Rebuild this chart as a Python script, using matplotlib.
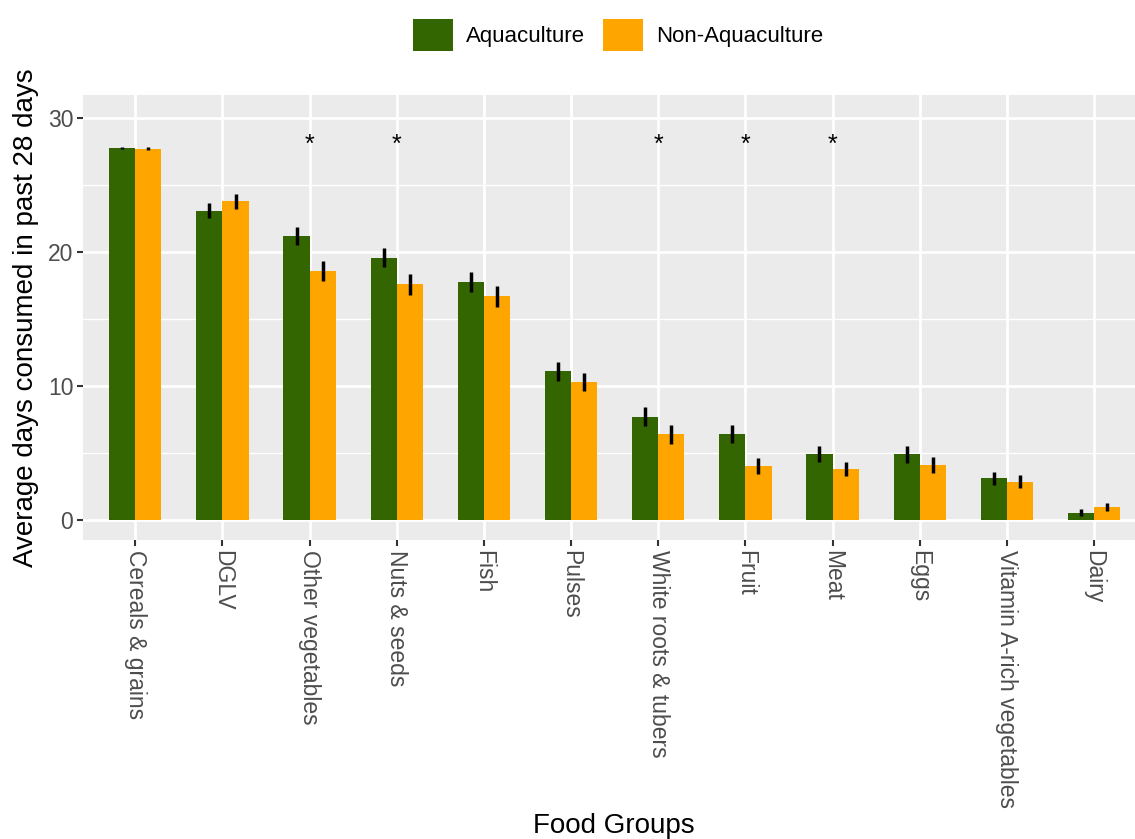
import numpy as np
import matplotlib
matplotlib.use("Agg")
import matplotlib.pyplot as plt
from matplotlib.patches import Patch
from matplotlib.ticker import MultipleLocator

plt.rcParams["font.family"] = ["Liberation Sans", "DejaVu Sans"]

# data
groups = ["Cereals & grains", "DGLV", "Other vegetables", "Nuts & seeds", "Fish", "Pulses",
          "White roots & tubers", "Fruit", "Meat", "Eggs", "Vitamin A-rich vegetables", "Dairy"]
aqua_mean = [27.8, 23.1, 21.2, 19.6, 17.8, 11.1, 7.7, 6.4, 4.95, 4.9, 3.1, 0.55]
aqua_err = [0.1, 0.57, 0.67, 0.72, 0.76, 0.7, 0.71, 0.67, 0.59, 0.61, 0.47, 0.24]
non_mean = [27.75, 23.8, 18.6, 17.6, 16.7, 10.3, 6.4, 4.05, 3.8, 4.1, 2.85, 0.97]
non_err = [0.1, 0.55, 0.73, 0.77, 0.78, 0.7, 0.69, 0.59, 0.55, 0.59, 0.49, 0.27]
significant = ["Other vegetables", "Nuts & seeds", "White roots & tubers", "Fruit", "Meat"]
star_y = 28.0

GREEN = "#336600"
ORANGE = "#FFA500"
W, H = 1135, 839

fig = plt.figure(figsize=(W / 100, H / 100), dpi=100)
ax = fig.add_axes([83 / W, 1 - 540 / H, (1135 - 83) / W, (540 - 95) / H])
ax.set_facecolor("#EBEBEB")
for s in ax.spines.values():
    s.set_visible(False)

x = np.arange(len(groups))
bw = 0.3
ax.bar(x - bw / 2, aqua_mean, bw, color=GREEN, zorder=3)
ax.bar(x + bw / 2, non_mean, bw, color=ORANGE, zorder=3)
ax.errorbar(x - bw / 2, aqua_mean, yerr=aqua_err, fmt="none", ecolor="black", elinewidth=2.5, capsize=0, zorder=4)
ax.errorbar(x + bw / 2, non_mean, yerr=non_err, fmt="none", ecolor="black", elinewidth=2.5, capsize=0, zorder=4)

for g in significant:
    ax.text(groups.index(g), star_y, "*", ha="center", va="center", fontsize=18, color="black", zorder=5)

ax.set_xlim(-0.6, 11.47)
ax.set_ylim(-1.5, 31.75)
ax.set_xticks(x)
ax.set_xticklabels(groups, rotation=270, ha="center", va="top")
ax.yaxis.set_major_locator(MultipleLocator(10))
ax.yaxis.set_minor_locator(MultipleLocator(5))
ax.grid(which="major", color="white", linewidth=2.0, zorder=0)
ax.grid(which="minor", axis="y", color="white", linewidth=1.0, zorder=0)
ax.tick_params(axis="both", which="major", length=4, width=1.5, color="#333333",
               labelcolor="#4D4D4D", labelsize=16.5, pad=3)
ax.tick_params(axis="both", which="minor", length=0)

ax.set_ylabel("Average days consumed in past 28 days", fontsize=20, color="black", labelpad=6)
fig.text(614 / W, 1 - 826 / H, "Food Groups", ha="center", va="center", fontsize=20)

handles = [Patch(facecolor=GREEN, label="Aquaculture"), Patch(facecolor=ORANGE, label="Non-Aquaculture")]
fig.legend(handles=handles, loc="center", bbox_to_anchor=(618 / W, 1 - 35 / H), ncol=2, frameon=False,
           fontsize=16, handlelength=1.8, handleheight=1.8, handletextpad=0.6, columnspacing=0.8)

fig.savefig("out.png", dpi=100)
